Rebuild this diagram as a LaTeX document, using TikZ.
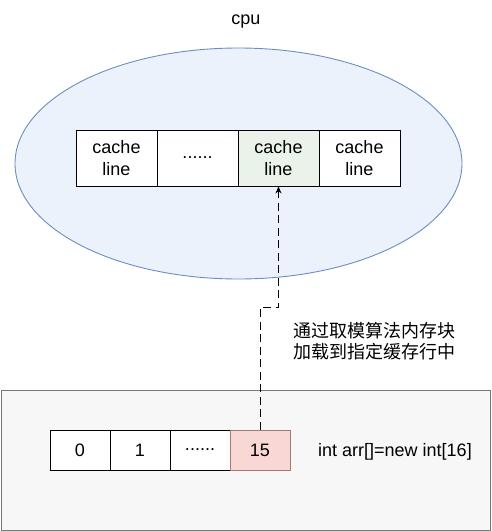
\documentclass[tikz,border=0pt]{standalone}
\usepackage{fontspec}
\setmainfont{Liberation Sans}
\newfontfamily\cjk{Noto Sans CJK SC}
\usetikzlibrary{arrows.meta}

\begin{document}
\begin{tikzpicture}[x=1pt,y=1pt,yscale=-1,
  every node/.style={font=\fontsize{18}{22}\selectfont},
  cacheline/.style={draw,line width=0.9pt,fill=white,minimum width=81,minimum height=56,inner sep=0pt,align=center},
  arrcell/.style={draw,line width=0.9pt,fill=white,minimum width=60,minimum height=40,inner sep=0pt}]
        \useasboundingbox (0,0) rectangle (491,531);

        %Shape: Ellipse [cpu]
        \draw [draw={rgb, 255:red, 108; green, 142; blue, 191 }, fill={rgb, 255:red, 236; green, 242; blue, 252 }, line width=0.9pt] (238.5,163.5) ellipse (223.5 and 115.5);
        %Shape: Rectangle [memory]
        \draw [draw={rgb, 255:red, 120; green, 120; blue, 120 }, fill={rgb, 255:red, 247; green, 247; blue, 247 }, line width=0.8pt] (1,390) rectangle (490,530);

        % Text Node
        \node (cpu) at (246,22) {cpu};

        %Cache lines
        \node [cacheline] (cl1) at (116.5,158) {cache\\line};
        \node [cacheline] (cl2) at (197.5,158) {......};
        \node [cacheline, fill={rgb, 255:red, 234; green, 243; blue, 233 }] (cl3) at (278.5,158) {cache\\line};
        \node [cacheline] (cl4) at (359.5,158) {cache\\line};

        %Array cells
        \node [arrcell] (c0) at (80,450) {0};
        \node [arrcell] (c1) at (140,450) {1};
        \node [arrcell] (c2) at (200,450) {......};
        \node [arrcell, draw={rgb, 255:red, 170; green, 120; blue, 115 }, fill={rgb, 255:red, 248; green, 215; blue, 212 }] (c15) at (260,450) {15};

        % Text Node
        \node [anchor=west, inner sep=0pt] (decl) at (318,452) {int arr[]=new int[16]};
        % Text Node
        \node [anchor=west, inner sep=0pt, align=left, font=\cjk\fontsize{18}{21}\selectfont] (note) at (293,341) {通过取模算法内存块\\加载到指定缓存行中};

        %Connector
        \draw [line width=1pt, dash pattern=on 8pt off 4.5pt, -{Stealth[length=7pt,width=6pt]}] (c15.north) -- ++(0,-122) -| (cl3.south);
\end{tikzpicture}
\end{document}
